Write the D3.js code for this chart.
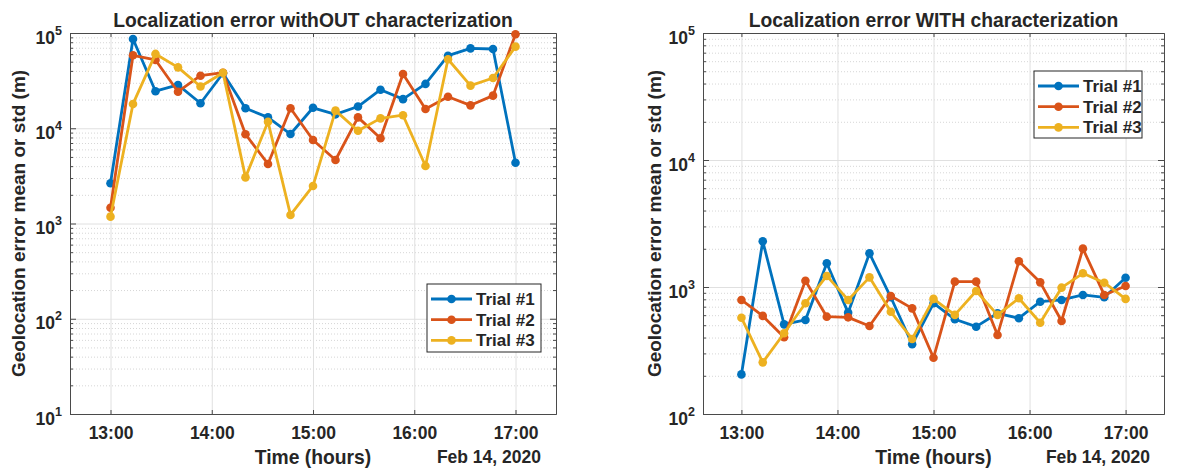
<!DOCTYPE html>
<html>
<head>
<meta charset="utf-8">
<script src="https://cdn.jsdelivr.net/npm/d3@7/dist/d3.min.js"></script>
<style>
  body { margin: 0; background: #fff; }
  svg { display: block; font-family: "Liberation Sans", Arial, Helvetica, sans-serif; }
  .ttl, .lab, .tk, .leg { font-weight: bold; fill: #262626; }
</style>
</head>
<body>
<div id="vis"></div>
<script>
// sample times (Feb 14, 2020), one every ~13 min
const TIMES = ["13:00:00", "13:13:20", "13:26:40", "13:40:00", "13:53:20", "14:06:40", "14:20:00",
  "14:33:20", "14:46:40", "15:00:00", "15:13:20", "15:26:40", "15:40:00", "15:53:20",
  "16:06:40", "16:20:00", "16:33:20", "16:46:40", "17:00:00"];

const SERIES_NAMES = ["Trial #1", "Trial #2", "Trial #3"];
const COLORS = ["#0072BD", "#D95319", "#EDB120"];

// localization error without characterization (m)
const NOCHAR_T1 = [2650, 86500, 24500, 28500, 18300, 37800, 16200, 13000, 8700, 16400,
  14000, 16900, 25400, 20200, 29200, 57800, 69000, 67900, 4350];
const NOCHAR_T2 = [1465, 58300, 52100, 24200, 35600, 38300, 8650, 4220, 16200, 7530,
  4640, 13000, 7840, 37100, 15900, 21400, 17400, 22000, 96900];
const NOCHAR_T3 = [1180, 18000, 60300, 43600, 27400, 38300, 3050, 11700, 1230, 2480,
  15300, 9420, 12700, 13700, 4020, 53000, 28000, 33700, 71900];

// localization error with characterization (m)
const CHAR_T1 = [205, 2290, 508, 550, 1540, 628, 1840, 830, 354, 745,
  557, 487, 621, 568, 766, 791, 866, 830, 1183];
const CHAR_T2 = [791, 592, 402, 1121, 584, 577, 493, 849, 679, 277,
  1102, 1102, 419, 1593, 1088, 540, 2005, 866, 1019];
const CHAR_T3 = [573, 255, 432, 745, 1222, 791, 1191, 638, 390, 806,
  603, 930, 603, 815, 523, 988, 1282, 1081, 806];

const X_DOMAIN = ["12:36:00", "17:24:00"];
const LEFT_Y_DOMAIN = [10, 1e5];
const RIGHT_Y_DOMAIN = [100, 1e5];

const parseT = d3.timeParse("%Y-%m-%d %H:%M:%S");
const toDate = (s) => parseT("2020-02-14 " + s);

const FRAME_WIDTH = 1190;
const FRAME_HEIGHT = 468;

const FRAME = d3.select("#vis")
  .append("svg")
    .attr("width", FRAME_WIDTH)
    .attr("height", FRAME_HEIGHT);

function build_panel(opts) {
  const X = d3.scaleTime()
    .domain(X_DOMAIN.map(toDate))
    .range([opts.left, opts.right]);
  const Y = d3.scaleLog()
    .domain(opts.yDomain)
    .range([opts.bottom, opts.top]);

  const g = FRAME.append("g");
  const w = opts.right - opts.left;
  const h = opts.bottom - opts.top;

  // decade and minor values
  const lo = Math.log10(opts.yDomain[0]), hi = Math.log10(opts.yDomain[1]);
  const decades = d3.range(lo, hi + 1).map((e) => Math.pow(10, e));
  const minors = [];
  decades.slice(0, -1).forEach((d) => { for (let k = 2; k <= 9; k++) minors.push(d * k); });
  const hours = X.ticks(d3.timeHour.every(1));

  // minor grid (dotted)
  g.selectAll(".mg").data(minors).enter().append("line")
    .attr("x1", opts.left).attr("x2", opts.right)
    .attr("y1", (d) => Y(d) + 0.5).attr("y2", (d) => Y(d) + 0.5)
    .attr("stroke", "#d6d6d6").attr("stroke-width", 1)
    .attr("stroke-dasharray", "1,2");

  // major grid
  g.selectAll(".hg").data(decades).enter().append("line")
    .attr("x1", opts.left).attr("x2", opts.right)
    .attr("y1", (d) => Y(d) + 0.5).attr("y2", (d) => Y(d) + 0.5)
    .attr("stroke", "#e0e0e0").attr("stroke-width", 1);
  g.selectAll(".vg").data(hours).enter().append("line")
    .attr("x1", (d) => X(d) + 0.5).attr("x2", (d) => X(d) + 0.5)
    .attr("y1", opts.top).attr("y2", opts.bottom)
    .attr("stroke", "#e0e0e0").attr("stroke-width", 1);

  // axes with inward ticks
  const axisStyle = (sel) => {
    sel.select(".domain").attr("stroke", "#4a4a4a");
    sel.selectAll(".tick line").attr("stroke", "#4a4a4a");
  };
  g.append("g").attr("transform", "translate(0," + opts.bottom + ")")
    .call(d3.axisBottom(X).ticks(d3.timeHour.every(1)).tickFormat(d3.timeFormat("%H:%M"))
      .tickSizeInner(-4).tickSizeOuter(0).tickPadding(13))
    .call(axisStyle)
    .selectAll("text").attr("class", "tk").attr("font-size", "17.5px");
  g.append("g").attr("transform", "translate(0," + opts.top + ")")
    .call(d3.axisTop(X).ticks(d3.timeHour.every(1)).tickFormat("").tickSizeInner(-4).tickSizeOuter(0))
    .call(axisStyle);

  const yl = g.append("g").attr("transform", "translate(" + opts.left + ",0)")
    .call(d3.axisLeft(Y).tickValues(decades).tickFormat("").tickSizeInner(-6).tickSizeOuter(0))
    .call(axisStyle);
  g.append("g").attr("transform", "translate(" + opts.left + ",0)")
    .call(d3.axisLeft(Y).tickValues(minors).tickFormat("").tickSizeInner(-3).tickSizeOuter(0))
    .call(axisStyle);
  g.append("g").attr("transform", "translate(" + opts.right + ",0)")
    .call(d3.axisRight(Y).tickValues(decades).tickFormat("").tickSizeInner(-6).tickSizeOuter(0))
    .call(axisStyle);
  g.append("g").attr("transform", "translate(" + opts.right + ",0)")
    .call(d3.axisRight(Y).tickValues(minors).tickFormat("").tickSizeInner(-3).tickSizeOuter(0))
    .call(axisStyle);

  // 10^n labels
  yl.selectAll(".tick").each(function (d) {
    const t = d3.select(this).append("text")
      .attr("class", "tk").attr("text-anchor", "end")
      .attr("x", -8).attr("y", 10).attr("fill", "#262626");
    t.append("tspan").attr("font-size", "17.5px").text("10");
    t.append("tspan").attr("font-size", "12.5px").attr("dy", -9)
      .text(Math.round(Math.log10(d)));
  });

  // lines + markers
  const line = d3.line()
    .x((d, i) => X(toDate(TIMES[i])))
    .y((d) => Y(d));
  opts.series.forEach((vals, s) => {
    g.append("path").datum(vals)
      .attr("d", line)
      .attr("fill", "none")
      .attr("stroke", COLORS[s])
      .attr("stroke-width", 2.8)
      .attr("stroke-linejoin", "round");
    g.selectAll(".pt" + s).data(vals).enter().append("circle")
      .attr("cx", (d, i) => X(toDate(TIMES[i])))
      .attr("cy", (d) => Y(d))
      .attr("r", 4.3)
      .attr("fill", COLORS[s]);
  });

  // titles and labels
  g.append("text").attr("class", "ttl")
    .attr("x", opts.left + w / 2).attr("y", 27)
    .attr("text-anchor", "middle").attr("font-size", "19.3px")
    .text(opts.title);
  g.append("text").attr("class", "lab")
    .attr("transform", "translate(" + opts.ylabX + "," + (opts.top + h / 2) + ") rotate(-90)")
    .attr("text-anchor", "middle").attr("font-size", "19px")
    .text("Geolocation error mean or std (m)");
  g.append("text").attr("class", "lab")
    .attr("x", opts.left + w / 2).attr("y", 464)
    .attr("text-anchor", "middle").attr("font-size", "19.3px")
    .text("Time (hours)");
  g.append("text").attr("class", "lab")
    .attr("x", opts.dateX).attr("y", 463)
    .attr("text-anchor", "end").attr("font-size", "17.5px")
    .text("Feb 14, 2020");

  // legend
  const L = opts.legend;
  const lg = g.append("g").attr("transform", "translate(" + L.x + "," + L.y + ")");
  lg.append("rect").attr("width", L.w).attr("height", L.h)
    .attr("fill", "#fff").attr("stroke", "#262626").attr("stroke-width", 1);
  SERIES_NAMES.forEach((name, s) => {
    const cy = 15 + s * 20.7;
    lg.append("line").attr("x1", 4).attr("x2", 45).attr("y1", cy).attr("y2", cy)
      .attr("stroke", COLORS[s]).attr("stroke-width", 2.8);
    lg.append("circle").attr("cx", 24.5).attr("cy", cy).attr("r", 4.3).attr("fill", COLORS[s]);
    lg.append("text").attr("class", "leg").attr("x", 49).attr("y", cy + 6)
      .attr("font-size", "17px").text(name);
  });
}

build_panel({
  left: 70, right: 556, top: 33, bottom: 414,
  yDomain: LEFT_Y_DOMAIN,
  series: [NOCHAR_T1, NOCHAR_T2, NOCHAR_T3],
  title: "Localization error withOUT characterization",
  ylabX: 25, dateX: 541,
  legend: {x: 427, y: 284, w: 114, h: 68}
});

build_panel({
  left: 703, right: 1164, top: 33, bottom: 414,
  yDomain: RIGHT_Y_DOMAIN,
  series: [CHAR_T1, CHAR_T2, CHAR_T3],
  title: "Localization error WITH characterization",
  ylabX: 661, dateX: 1150,
  legend: {x: 1034, y: 71, w: 108, h: 67}
});
</script>
</body>
</html>
